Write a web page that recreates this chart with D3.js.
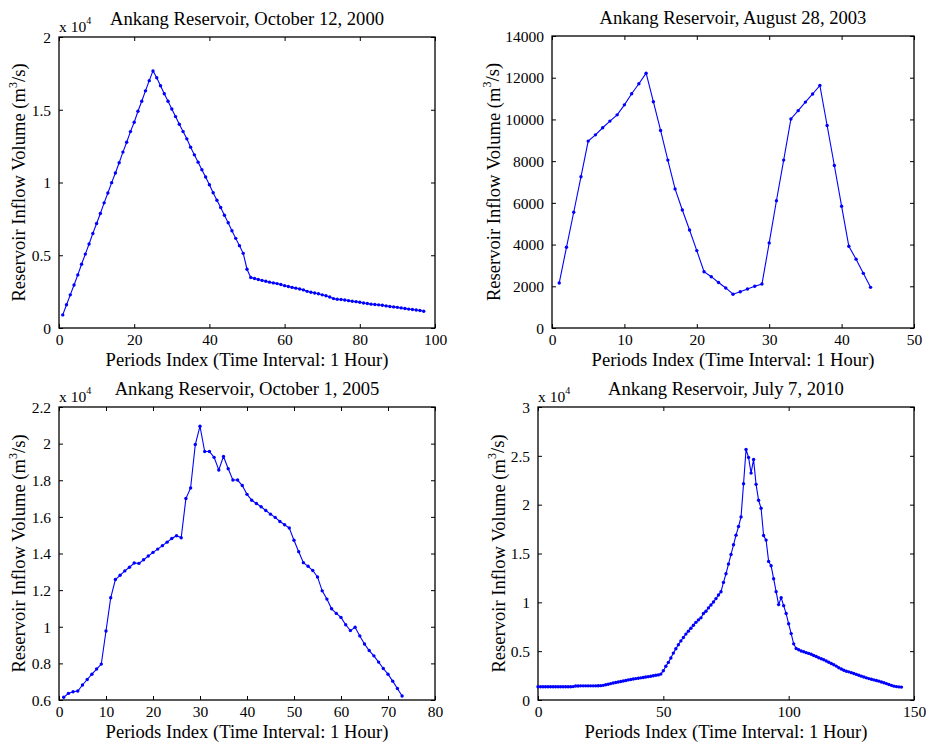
<!DOCTYPE html>
<html><head><meta charset="utf-8">
<script src="https://cdn.jsdelivr.net/npm/d3@7"></script>
<style>body{margin:0;background:#fff} svg{display:block}</style>
</head><body>
<svg id="c" width="930" height="742"></svg>
<script>
// ---------------- DATA ----------------
const titles = [
  "Ankang Reservoir, October 12, 2000",
  "Ankang Reservoir, August 28, 2003",
  "Ankang Reservoir, October 1, 2005",
  "Ankang Reservoir, July 7, 2010"
];
const xLabel = "Periods Index (Time Interval: 1 Hour)";
const yLabelMain = "Reservoir Inflow Volume (m";
const yLabelSup = "3";
const yLabelTail = "/s)";

const firstIndex = [1, 1, 1, 0];

const inflow2000 = [900,1600,2280,2960,3650,4380,5080,5770,6500,7180,7870,8600,9280,9990,10650,11360,12090,12770,13500,14140,
  14900,15580,16300,17000,17670,17200,16650,16100,15580,15050,14530,14000,13500,13000,12430,11900,11400,10880,10380,9850,
  9300,8780,8280,7750,7230,6680,6160,5660,5130,4040,3470,
  3400,3330,3270,3210,3150,3100,3050,2990,2910,2850,2790,2740,2680,2620,2520,2460,2410,2350,2280,2220,
  2130,2020,1980,1960,1920,1880,1840,1810,1770,1720,1680,1640,1620,1590,1560,1520,1480,1450,1420,1380,
  1340,1300,1270,1240,1200,1150];
const inflow2003 = [2160,3870,5550,7250,8960,9260,9600,9920,10220,10700,11230,11710,12220,10850,9470,8050,6670,5660,4700,3710,
  2700,2460,2180,1920,1620,1740,1870,2000,2110,4080,6100,8050,10020,10420,10830,11220,11630,9710,7790,5840,
  3920,3300,2620,1950];
const inflow2005 = [6150,6360,6450,6490,6820,7120,7410,7690,7960,9770,11580,12580,12810,13050,13250,13480,13460,13660,13860,14060,
  14240,14430,14620,14820,14970,14860,17000,17580,19950,20950,19570,19570,19250,18560,19300,18630,18010,18010,17710,17230,
  16910,16730,16550,16350,16150,15970,15750,15570,15390,14720,14100,13500,13300,13070,12720,11960,11510,10980,10730,10510,
  10110,9790,9970,9500,9060,8700,8410,8070,7720,7410,7030,6630,6220];
const inflow2010 = [1360,1360,1360,1360,1360,1360,1360,1360,1360,1360,1360,1360,1360,1360,1370,
  1440,1440,1450,1450,1450,1450,1450,1450,1450,1460,1470,
  1500,1560,1620,1680,1740,1790,1840,1890,1940,2000,2060,2100,2150,2190,2230,2270,2310,2350,2390,2430,2480,2530,2570,2650,
  3000,3450,3850,4300,4800,5250,5650,6050,6400,6750,7050,7350,7650,7950,8200,
  8410,8850,9080,9430,9730,10040,10380,10750,11090,12040,12930,13920,14900,15890,16880,17760,18750,22140,25650,24840,
  23230,24630,22080,20450,19630,16840,16370,14190,13740,12420,11090,9770,10480,9660,8850,7800,6800,5750,5280,
  5150,5020,4940,4850,4770,4680,4560,4450,4330,4230,4120,3990,3870,3740,3610,3470,3300,3170,3050,2950,
  2880,2800,2720,2620,2530,2440,2350,2270,2190,2120,2060,1990,1930,1850,1770,1680,1590,1500,1420,1370,1340,1320];

const xTicks2000 = [0,20,40,60,80,100];
const xTicks2003 = [0,10,20,30,40,50];
const xTicks2005 = [0,10,20,30,40,50,60,70,80];
const xTicks2010 = [0,50,100,150];

const yTicks2000 = [0,5000,10000,15000,20000];
const yTicks2003 = [0,2000,4000,6000,8000,10000,12000,14000];
const yTicks2005 = [6000,8000,10000,12000,14000,16000,18000,20000,22000];
const yTicks2010 = [0,5000,10000,15000,20000,25000,30000];

const yTickLabels2000 = ["0","0.5","1","1.5","2"];
const yTickLabels2003 = ["0","2000","4000","6000","8000","10000","12000","14000"];
const yTickLabels2005 = ["0.6","0.8","1","1.2","1.4","1.6","1.8","2","2.2"];
const yTickLabels2010 = ["0","0.5","1","1.5","2","2.5","3"];

const exponentLabel = ["4", null, "4", "4"];

// ---------------- LAYOUT ----------------
const boxes = [
  {l:59, r:435, t:37, b:328, ylab:25},
  {l:552, r:914, t:36, b:328, ylab:499.5},
  {l:59, r:435, t:407, b:700, ylab:25},
  {l:538, r:914, t:407, b:700, ylab:504.5}
];
const series = [inflow2000, inflow2003, inflow2005, inflow2010];
const xTicks = [xTicks2000, xTicks2003, xTicks2005, xTicks2010];
const yTicks = [yTicks2000, yTicks2003, yTicks2005, yTicks2010];
const yTickLabels = [yTickLabels2000, yTickLabels2003, yTickLabels2005, yTickLabels2010];

const FONT = "'Liberation Serif','Times New Roman',serif";
const BLUE = "#0000ff";
const svg = d3.select("#c");
svg.append("rect").attr("width",930).attr("height",742).attr("fill","#fff");

series.forEach((vals, k) => {
  const bx = boxes[k];
  const xt = xTicks[k], yt = yTicks[k];
  const x = d3.scaleLinear().domain([xt[0], xt[xt.length-1]]).range([bx.l, bx.r]);
  const y = d3.scaleLinear().domain([yt[0], yt[yt.length-1]]).range([bx.b, bx.t]);
  const g = svg.append("g");
  const tl = 4;

  // bottom axis (labels, ticks inward)
  const xa = d3.axisBottom(x).tickValues(xt).tickSize(-tl).tickPadding(7).tickFormat(d3.format("d"));
  const gx = g.append("g").attr("transform", `translate(0,${bx.b})`).call(xa);
  // top ticks
  const gxt = g.append("g").attr("transform", `translate(0,${bx.t})`)
    .call(d3.axisTop(x).tickValues(xt).tickSize(-tl).tickFormat(""));
  // left axis
  const ya = d3.axisLeft(y).tickValues(yt).tickSize(-tl).tickPadding(8)
    .tickFormat((d,i) => yTickLabels[k][i]);
  const gy = g.append("g").attr("transform", `translate(${bx.l},0)`).call(ya);
  const gyr = g.append("g").attr("transform", `translate(${bx.r},0)`)
    .call(d3.axisRight(y).tickValues(yt).tickSize(-tl).tickFormat(""));

  [gx,gxt,gy,gyr].forEach(a => {
    a.select(".domain").remove();
    a.selectAll(".tick line").attr("stroke","#000").attr("stroke-width",1);
    a.selectAll("text").attr("font-family",FONT).attr("font-size","15.5px").attr("fill","#000");
  });
  gx.selectAll(".tick text").attr("dy", null).attr("y", 17).attr("dominant-baseline","auto");
  gy.selectAll(".tick text").attr("dy","0.34em");

  // box
  g.append("rect").attr("x",bx.l).attr("y",bx.t).attr("width",bx.r-bx.l).attr("height",bx.b-bx.t)
    .attr("fill","none").attr("stroke","#000").attr("stroke-width",1.3);

  // data
  const pts = vals.map((v,i) => [firstIndex[k] + i, v]);
  const line = d3.line().x(d => x(d[0])).y(d => y(d[1]));
  g.append("path").datum(pts).attr("d", line).attr("fill","none").attr("stroke",BLUE).attr("stroke-width",1.1);
  g.append("g").selectAll("circle").data(pts).join("circle")
    .attr("cx", d => x(d[0])).attr("cy", d => y(d[1])).attr("r", 1.7).attr("fill", BLUE);

  // title
  g.append("text").attr("x",(bx.l+bx.r)/2).attr("y",bx.t-12).attr("text-anchor","middle")
    .attr("font-family",FONT).attr("font-size","18.6px").text(titles[k]);
  // x label
  g.append("text").attr("x",(bx.l+bx.r)/2).attr("y",bx.b+37.5).attr("text-anchor","middle")
    .attr("font-family",FONT).attr("font-size","18.6px").text(xLabel);
  // y label
  const yl = g.append("text").attr("transform",`translate(${bx.ylab},${(bx.t+bx.b)/2}) rotate(-90)`)
    .attr("text-anchor","middle").attr("font-family",FONT).attr("font-size","18.6px");
  yl.append("tspan").text(yLabelMain);
  yl.append("tspan").attr("font-size","12px").attr("dy","-0.7em").text(yLabelSup);
  yl.append("tspan").attr("dy","0.45em").text(yLabelTail);

  // exponent
  if (exponentLabel[k]) {
    const ex = g.append("text").attr("x",bx.l).attr("y",bx.t-5.5)
      .attr("font-family",FONT).attr("font-size","15.5px");
    ex.append("tspan").text("x 10");
    ex.append("tspan").attr("font-size","10px").attr("dy","-0.8em").text(exponentLabel[k]);
  }
});
</script>
</body></html>
